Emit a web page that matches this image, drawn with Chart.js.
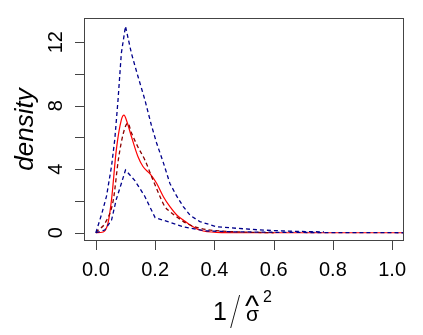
<!DOCTYPE html>
<html>
<head>
<meta charset="utf-8">
<script src="https://cdn.jsdelivr.net/npm/chart.js@4"></script>
<style>
  html, body { margin: 0; padding: 0; background: #fff; }
  #wrap { width: 423px; height: 335px; }
</style>
</head>
<body>
<div id="wrap"><canvas id="chart"></canvas></div>
<script>
// values
const upperX = [0, 0.02, 0.036, 0.053, 0.064, 0.075, 0.086, 0.1, 0.12, 0.142, 0.165, 0.187, 0.205, 0.228, 0.25, 0.273, 0.295, 0.318, 0.351, 0.407, 0.475, 0.55, 0.65, 0.77];
const upperY = [0, 1.2, 2.3, 4.2, 5.9, 8.4, 11.3, 13.0, 11.3, 9.85, 8.4, 6.8, 5.65, 4.4, 3.1, 2.3, 1.65, 1.1, 0.7, 0.38, 0.28, 0.18, 0.1, 0.05];

const lowerX = [0, 0.03, 0.053, 0.069, 0.086, 0.1, 0.131, 0.165, 0.2, 0.243, 0.3, 0.37, 0.46, 0.6, 0.77, 1.04];
const lowerY = [0, 0.17, 0.8, 2.1, 3.1, 3.95, 3.3, 2.3, 0.95, 0.7, 0.35, 0.12, 0.06, 0.03, 0.01, 0];

const meanX = [0, 0.008, 0.031, 0.059, 0.076, 0.093, 0.108, 0.12, 0.142, 0.165, 0.19, 0.216, 0.233, 0.25, 0.273, 0.306, 0.351, 0.407, 0.5, 0.6];
const meanY = [0, 0.17, 0.6, 2.07, 4.6, 6.28, 6.9, 6.3, 5.4, 4.6, 3.45, 2.3, 1.64, 1.33, 1.0, 0.59, 0.28, 0.13, 0.04, 0];

const trueX = [0, 0.025, 0.041, 0.053, 0.069, 0.086, 0.095, 0.103, 0.12, 0.142, 0.159, 0.183, 0.205, 0.228, 0.25, 0.273, 0.295, 0.318, 0.351, 0.407, 0.5, 1.04];
const trueY = [0, 0.05, 0.6, 2.1, 5.2, 7.1, 7.4, 7.1, 6.06, 4.8, 4.17, 3.7, 3.12, 2.27, 1.64, 1.12, 0.8, 0.49, 0.17, 0.02, 0, 0];

const xTicks = [0, 0.2, 0.4, 0.6, 0.8, 1.0];
const xTickLabels = ['0.0', '0.2', '0.4', '0.6', '0.8', '1.0'];
const yTicks = [0, 2, 4, 6, 8, 10, 12];
const yTickLabels = ['0', '', '4', '', '8', '', '12'];

function pts(xs, ys) {
  return xs.map((v, i) => ({ x: v, y: ys[i] }));
}

// R style frame, ticks and labels
const rAxes = {
  id: 'rAxes',
  afterDraw(chart) {
    const ctx = chart.ctx;
    const a = chart.chartArea;
    const xs = chart.scales.x, ys = chart.scales.y;
    ctx.save();
    ctx.strokeStyle = '#444';
    ctx.lineWidth = 1;
    ctx.strokeRect(a.left + 0.5, a.top + 0.5, a.right - a.left - 1, a.bottom - a.top - 1);

    ctx.fillStyle = '#000';
    ctx.beginPath();
    xTicks.forEach(v => {
      const px = Math.round(xs.getPixelForValue(v)) + 0.5;
      ctx.moveTo(px, a.bottom);
      ctx.lineTo(px, a.bottom + 9);
    });
    yTicks.forEach(v => {
      const py = Math.round(ys.getPixelForValue(v)) + 0.5;
      ctx.moveTo(a.left, py);
      ctx.lineTo(a.left - 9, py);
    });
    ctx.stroke();

    ctx.font = '20px "Liberation Sans", Arial, sans-serif';
    ctx.textAlign = 'center';
    ctx.textBaseline = 'alphabetic';
    xTicks.forEach((v, i) => {
      ctx.fillText(xTickLabels[i], xs.getPixelForValue(v), 276);
    });
    yTicks.forEach((v, i) => {
      if (!yTickLabels[i]) return;
      ctx.save();
      ctx.translate(62, ys.getPixelForValue(v));
      ctx.rotate(-Math.PI / 2);
      ctx.fillText(yTickLabels[i], 0, 0);
      ctx.restore();
    });

    // y title
    ctx.save();
    ctx.font = 'italic 26px "Liberation Sans", Arial, sans-serif';
    ctx.translate(33, (a.top + a.bottom) / 2);
    ctx.rotate(-Math.PI / 2);
    ctx.fillText('density', 0, 0);
    ctx.restore();

    // x title: 1/sigma-hat^2
    ctx.textAlign = 'left';
    ctx.font = '25px "Liberation Sans", Arial, sans-serif';
    ctx.fillText('1', 213, 320);
    ctx.font = '100 38px Inter, "Liberation Sans", sans-serif';
    ctx.fillText('/', 229, 324);
    ctx.font = '21px "Liberation Sans", Arial, sans-serif';
    ctx.fillText('σ', 246, 321);
    ctx.font = '30px "Liberation Sans", Arial, sans-serif';
    ctx.fillText('^', 245, 316);
    ctx.font = '16px "Liberation Sans", Arial, sans-serif';
    ctx.fillText('2', 263, 302);
    ctx.restore();
  }
};

new Chart(document.getElementById('chart'), {
  type: 'line',
  data: {
    datasets: [
      { data: pts(lowerX, lowerY), borderColor: '#00008B', borderWidth: 1.3, borderDash: [4, 3], tension: 0 },
      { data: pts(upperX, upperY), borderColor: '#00008B', borderWidth: 1.3, borderDash: [4, 3], tension: 0 },
      { data: pts(meanX, meanY), borderColor: '#8B0000', borderWidth: 1.3, borderDash: [4, 3], cubicInterpolationMode: 'monotone' },
      { data: pts(trueX, trueY), borderColor: '#FF0000', borderWidth: 1.2, cubicInterpolationMode: 'monotone' }
    ]
  },
  options: {
    responsive: true,
    maintainAspectRatio: false,
    animation: false,
    elements: { point: { radius: 0 } },
    layout: { padding: { left: 84, right: 19, top: 18, bottom: 94 } },
    plugins: { legend: { display: false }, tooltip: { enabled: false } },
    scales: {
      x: { type: 'linear', min: -0.04, max: 1.04, display: false },
      y: { type: 'linear', min: -0.52, max: 13.52, display: false }
    }
  },
  plugins: [rAxes]
});
</script>
</body>
</html>
